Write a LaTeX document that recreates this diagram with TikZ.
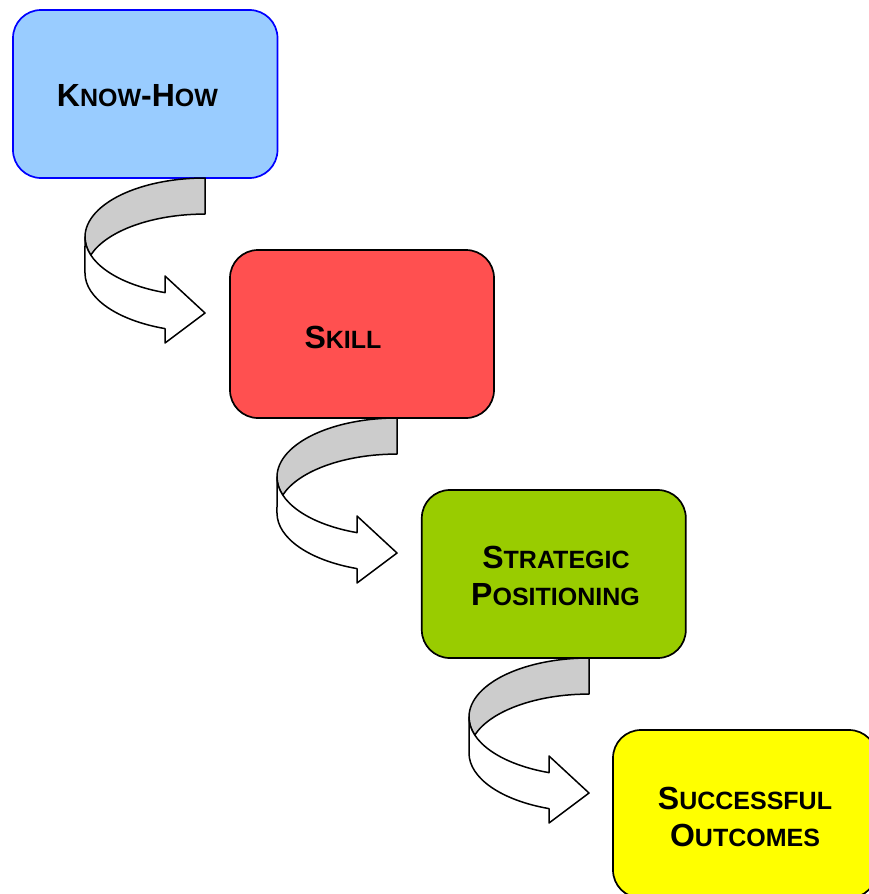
\documentclass[tikz,border=0pt]{standalone}
\usepackage{fontspec}
\setmainfont{Liberation Sans}
\definecolor{bluefill}{HTML}{99CCFF}
\definecolor{redfill}{HTML}{FF5050}
\definecolor{greenfill}{HTML}{99CC00}
\definecolor{yellowfill}{HTML}{FFFF00}
\definecolor{ribbongray}{HTML}{CCCCCC}
\newcommand\Sm[1]{{\fontsize{25}{25}\selectfont #1}}
\tikzset{
  box/.style={draw=black, line width=1.7pt, rounded corners=28pt,
    minimum width=264pt, minimum height=168pt, inner sep=0pt},
  lbl/.style={anchor=base, inner sep=0pt, font=\bfseries\fontsize{32}{37}\selectfont},
  ribbon/.style={draw=black, line width=1.5pt, line join=round}
}
\newcommand\Ribbon[1]{%
  \begin{scope}[shift={#1}]
    \path[ribbon, fill=ribbongray] (0,59)
      arc[start angle=90, end angle=197.8, x radius=120, y radius=59]
      arc[start angle=162.2, end angle=90, x radius=120, y radius=59]
      -- cycle;
    \path[ribbon, fill=white] (-120,0)
      arc[start angle=180, end angle=250.53, x radius=120, y radius=59]
      -- (-40,-39) -- (0,-76) -- (-40,-106) -- (-40,-91.6)
      arc[start angle=250.53, end angle=180, x radius=120, y radius=59]
      -- cycle;
  \end{scope}}
\begin{document}
\begin{tikzpicture}[x=1pt,y=1pt]
\useasboundingbox (0,0) rectangle (869,-894);
% boxes
\node[box, draw=blue, fill=bluefill, minimum width=264.5pt] (b1) at (145.25,-94) {};
\node[box, fill=redfill] (b2) at (362,-334) {};
\node[box, fill=greenfill] (b3) at (553.8,-574) {};
\node[box, fill=yellowfill] (b4) at (745,-814) {};
% ribbon arrows
\Ribbon{(205,-237)}
\Ribbon{(397,-477)}
\Ribbon{(589,-717)}
% labels
\node[lbl] (t1) at (137.5,-106) {K\Sm{NOW}-H\Sm{OW}};
\node[lbl] (t2) at (343,-348) {S\Sm{KILL}};
\node[lbl] (t3a) at (556,-568) {S\Sm{TRATEGIC}};
\node[lbl] (t3b) at (555.5,-605) {P\Sm{OSITIONING}};
\node[lbl] (t4a) at (745,-809) {S\Sm{UCCESSFUL}};
\node[lbl] (t4b) at (745,-846) {O\Sm{UTCOMES}};
\end{tikzpicture}
\end{document}
